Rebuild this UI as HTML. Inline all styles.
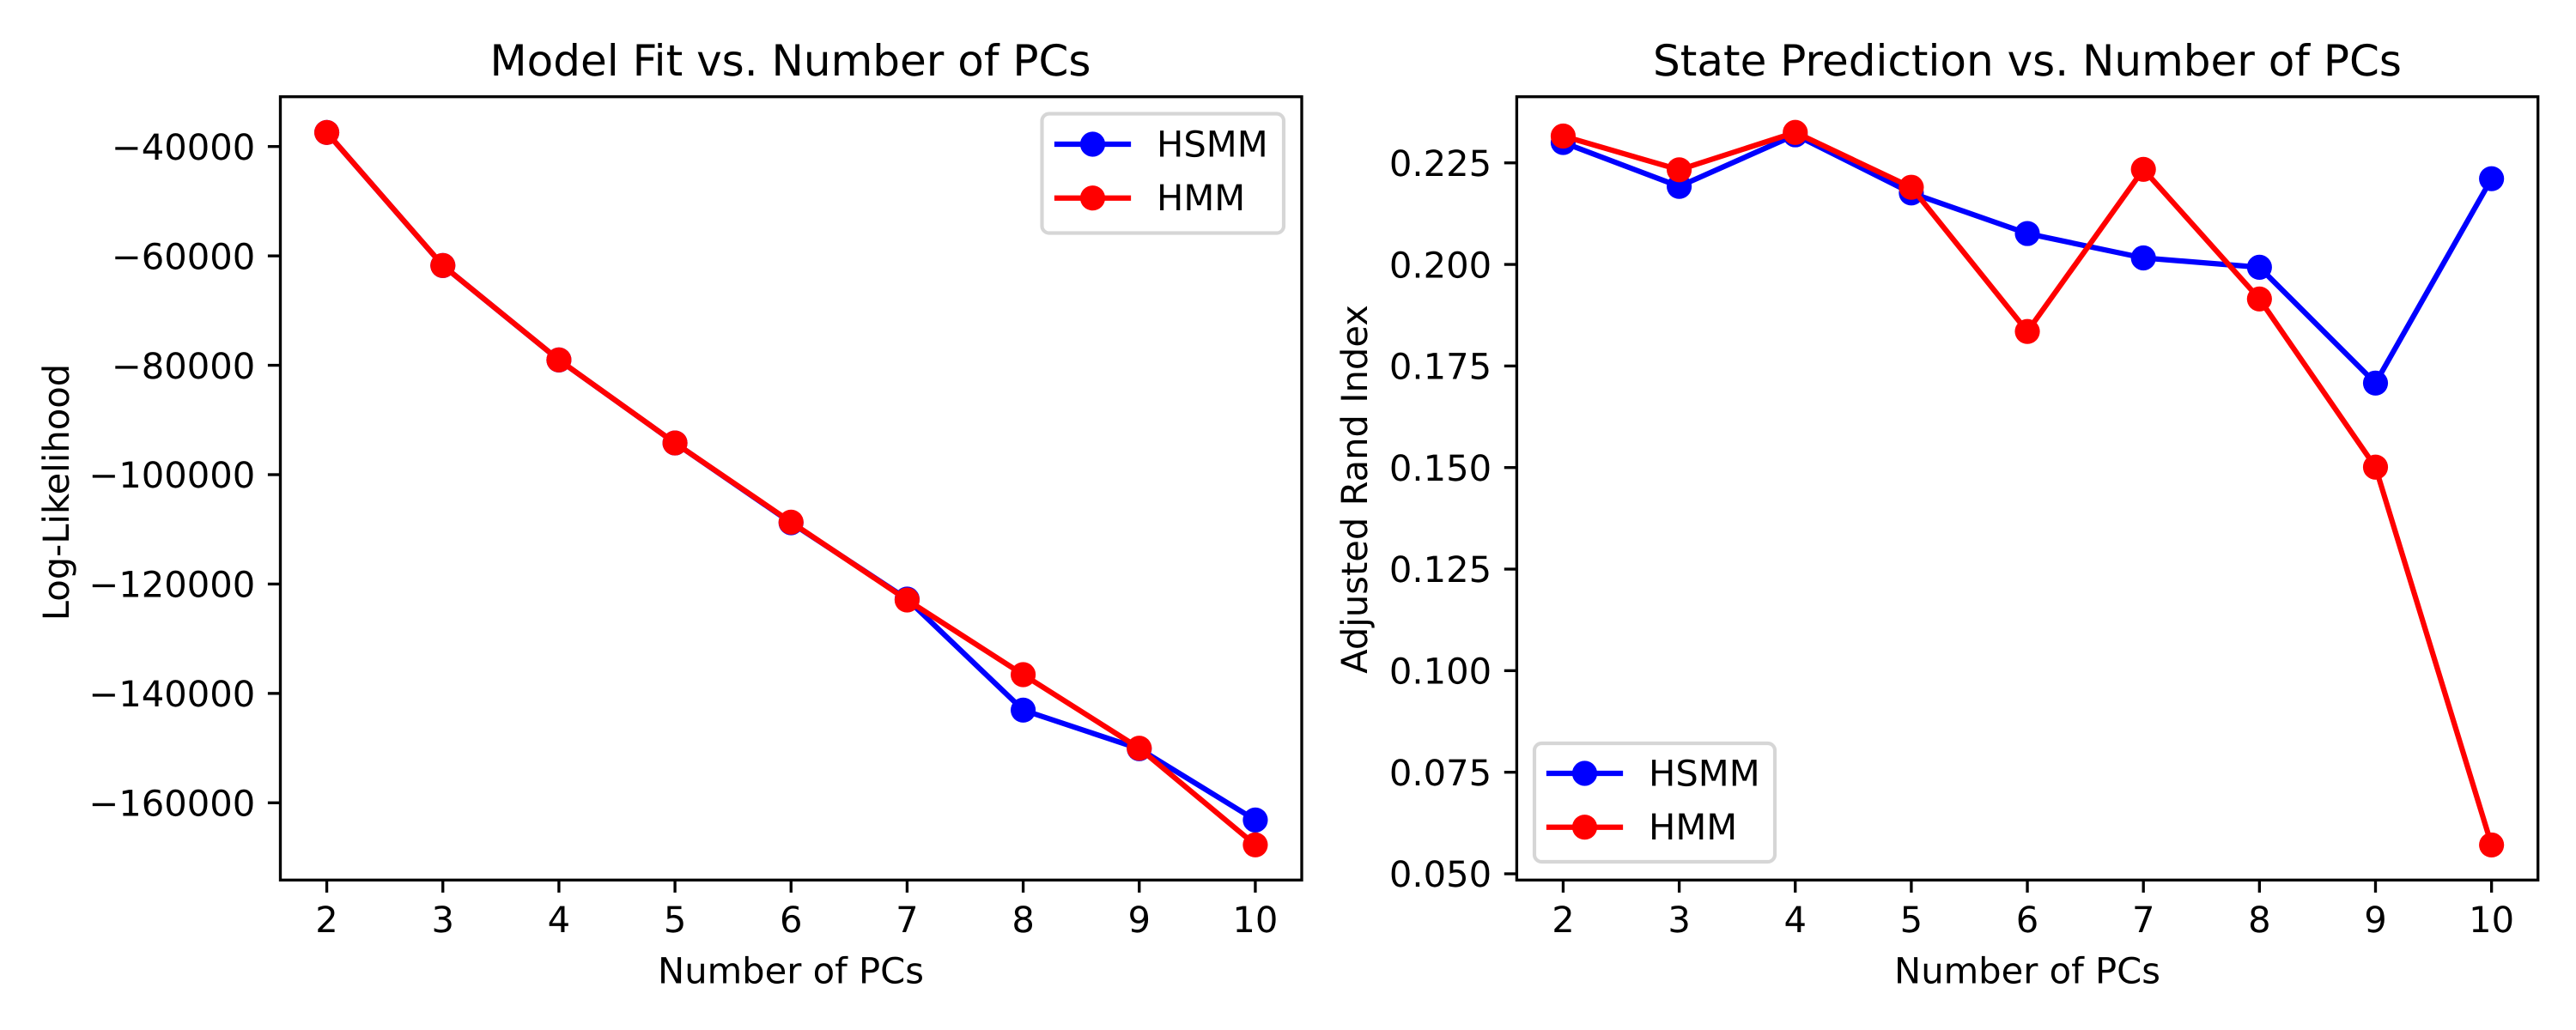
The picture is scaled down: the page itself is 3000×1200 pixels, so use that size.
<!DOCTYPE html>
<html lang="en">
<head>
<meta charset="utf-8">
<title>Model Fit and State Prediction vs. Number of PCs</title>
<style>
  html, body { margin: 0; padding: 0; background: #ffffff; }
  svg { display: block; }
  text { font-family: "DejaVu Sans", "Liberation Sans", sans-serif; fill: #000000; text-rendering: geometricPrecision; }
  .tick-text, .axis-label, .legend-text { font-size: 41.67px; }
  .title { font-size: 50px; }
</style>
</head>
<body>
<svg xmlns="http://www.w3.org/2000/svg" width="3000" height="1200" viewBox="0 0 3000 1200">
  <rect x="0" y="0" width="3000" height="1200" fill="#ffffff"/>

  <g id="fit-panel">
    <g id="fit-marks"></g>
    <g id="fit-axes"></g>
    <rect x="326.5" y="112.7" width="1189.5" height="912.6" fill="none" stroke="#000" stroke-width="3.33"/>
    <text class="title" x="920.5" y="88" text-anchor="middle">Model Fit vs. Number of PCs</text>
    <text class="axis-label" x="921" y="1145.5" text-anchor="middle">Number of PCs</text>
    <text class="axis-label" transform="translate(80 573.5) rotate(-90)" text-anchor="middle">Log-Likelihood</text>
    <g>
      <rect x="1213.5" y="132.5" width="281.5" height="139" rx="8.3" ry="8.3" fill="#ffffff" fill-opacity="0.8" stroke="#d6d6d6" stroke-width="4.17"/>
      <g>
        <line x1="1231" y1="168" x2="1314" y2="168" stroke="#0000ff" stroke-width="6.25" stroke-linecap="square"/>
        <circle cx="1272.5" cy="168" r="14.58" fill="#0000ff"/>
        <text class="legend-text" x="1347" y="182.5">HSMM</text>
      </g>
      <g>
        <line x1="1231" y1="230.7" x2="1314" y2="230.7" stroke="#ff0000" stroke-width="6.25" stroke-linecap="square"/>
        <circle cx="1272.5" cy="230.7" r="14.58" fill="#ff0000"/>
        <text class="legend-text" x="1347" y="245">HMM</text>
      </g>
    </g>
  </g>

  <g id="ari-panel">
    <g id="ari-marks"></g>
    <g id="ari-axes"></g>
    <rect x="1766.4" y="112.7" width="1189.3" height="912.6" fill="none" stroke="#000" stroke-width="3.33"/>
    <text class="title" x="2361" y="88" text-anchor="middle">State Prediction vs. Number of PCs</text>
    <text class="axis-label" x="2361" y="1145.5" text-anchor="middle">Number of PCs</text>
    <text class="axis-label" transform="translate(1592 570) rotate(-90)" text-anchor="middle">Adjusted Rand Index</text>
    <g>
      <rect x="1787" y="866" width="280" height="138" rx="8.3" ry="8.3" fill="#ffffff" fill-opacity="0.8" stroke="#d6d6d6" stroke-width="4.17"/>
      <g>
        <line x1="1804" y1="901" x2="1887" y2="901" stroke="#0000ff" stroke-width="6.25" stroke-linecap="square"/>
        <circle cx="1845.5" cy="901" r="14.58" fill="#0000ff"/>
        <text class="legend-text" x="1920" y="915.5">HSMM</text>
      </g>
      <g>
        <line x1="1804" y1="963.7" x2="1887" y2="963.7" stroke="#ff0000" stroke-width="6.25" stroke-linecap="square"/>
        <circle cx="1845.5" cy="963.7" r="14.58" fill="#ff0000"/>
        <text class="legend-text" x="1920" y="978">HMM</text>
      </g>
    </g>
  </g>
</svg>

<script>
const pcCategories = [2, 3, 4, 5, 6, 7, 8, 9, 10];

const fitHsmmValues = [-37430, -61760, -79030, -94210, -108790, -122760, -143050, -150120, -163150];
const fitHmmValues = [-37430, -61750, -79020, -94200, -108680, -122920, -136570, -150020, -167690];
const fitTickValues = [-40000, -60000, -80000, -100000, -120000, -140000, -160000];
const fitTickLabels = ['\u221240000', '\u221260000', '\u221280000', '\u2212100000', '\u2212120000', '\u2212140000', '\u2212160000'];

const ariHsmmValues = [0.2300, 0.2192, 0.2319, 0.2176, 0.2076, 0.2016, 0.1993, 0.1708, 0.2211];
const ariHmmValues = [0.2316, 0.2233, 0.2325, 0.2190, 0.1835, 0.2234, 0.1915, 0.1501, 0.0571];
const ariTickValues = [0.050, 0.075, 0.100, 0.125, 0.150, 0.175, 0.200, 0.225];
const ariTickLabels = ['0.050', '0.075', '0.100', '0.125', '0.150', '0.175', '0.200', '0.225'];

const SVG_NS = 'http://www.w3.org/2000/svg';
const AXIS_TOP = 112.7;
const AXIS_BOTTOM = 1025.3;
const TICK_LENGTH = 14.6;
const TICK_PAD = 14.6;

function linearScale(domainStart, domainEnd, rangeStart, rangeEnd) {
  return function (value) {
    return rangeStart + (value - domainStart) / (domainEnd - domainStart) * (rangeEnd - rangeStart);
  };
}

function makeSvg(tag, attrs, parent) {
  const node = document.createElementNS(SVG_NS, tag);
  Object.keys(attrs).forEach(function (key) { node.setAttribute(key, attrs[key]); });
  parent.appendChild(node);
  return node;
}

function drawAxes(group, prefix, xScale, yScale, left, yTicks, yLabels) {
  pcCategories.forEach(function (category) {
    const x = xScale(category);
    const tick = makeSvg('line', { x1: x, x2: x, y1: AXIS_BOTTOM, y2: AXIS_BOTTOM + TICK_LENGTH, stroke: '#000', 'stroke-width': 3.33 }, group);
    
    
    const label = makeSvg('text', { x: x, y: 1086, 'text-anchor': 'middle', class: 'tick-text' }, group);
    label.textContent = String(category);
    
    
  });
  yTicks.forEach(function (value, index) {
    const y = yScale(value);
    const tick = makeSvg('line', { x1: left - TICK_LENGTH, x2: left, y1: y, y2: y, stroke: '#000', 'stroke-width': 3.33 }, group);
    
    
    const label = makeSvg('text', { x: left - TICK_LENGTH - TICK_PAD, y: y + 15.2, 'text-anchor': 'end', class: 'tick-text' }, group);
    label.textContent = yLabels[index];
    
    
  });
}

function drawSeries(group, prefix, seriesName, color, values, xScale, yScale) {
  const points = values.map(function (value, index) {
    return xScale(pcCategories[index]) + ',' + yScale(value);
  }).join(' ');
  const line = makeSvg('polyline', { points: points, fill: 'none', stroke: color, 'stroke-width': 6.25, 'stroke-linejoin': 'round', 'stroke-linecap': 'square' }, group);
  
  
  values.forEach(function (value, index) {
    const dot = makeSvg('circle', { cx: xScale(pcCategories[index]), cy: yScale(value), r: 14.58, fill: color }, group);
    
    
  });
}

const fitX = linearScale(1.6, 10.4, 326.5, 1516);
const fitY = linearScale(-30897, -174127, AXIS_TOP, AXIS_BOTTOM);
const ariX = linearScale(1.6, 10.4, 1766.4, 2955.7);
const ariY = linearScale(0.24128, 0.04846, AXIS_TOP, AXIS_BOTTOM);

drawAxes(document.getElementById('fit-axes'), 'model-fit', fitX, fitY, 326.5, fitTickValues, fitTickLabels);
drawSeries(document.getElementById('fit-marks'), 'model-fit', 'hsmm', '#0000ff', fitHsmmValues, fitX, fitY);
drawSeries(document.getElementById('fit-marks'), 'model-fit', 'hmm', '#ff0000', fitHmmValues, fitX, fitY);

drawAxes(document.getElementById('ari-axes'), 'state-prediction', ariX, ariY, 1766.4, ariTickValues, ariTickLabels);
drawSeries(document.getElementById('ari-marks'), 'state-prediction', 'hsmm', '#0000ff', ariHsmmValues, ariX, ariY);
drawSeries(document.getElementById('ari-marks'), 'state-prediction', 'hmm', '#ff0000', ariHmmValues, ariX, ariY);
</script>
</body>
</html>
